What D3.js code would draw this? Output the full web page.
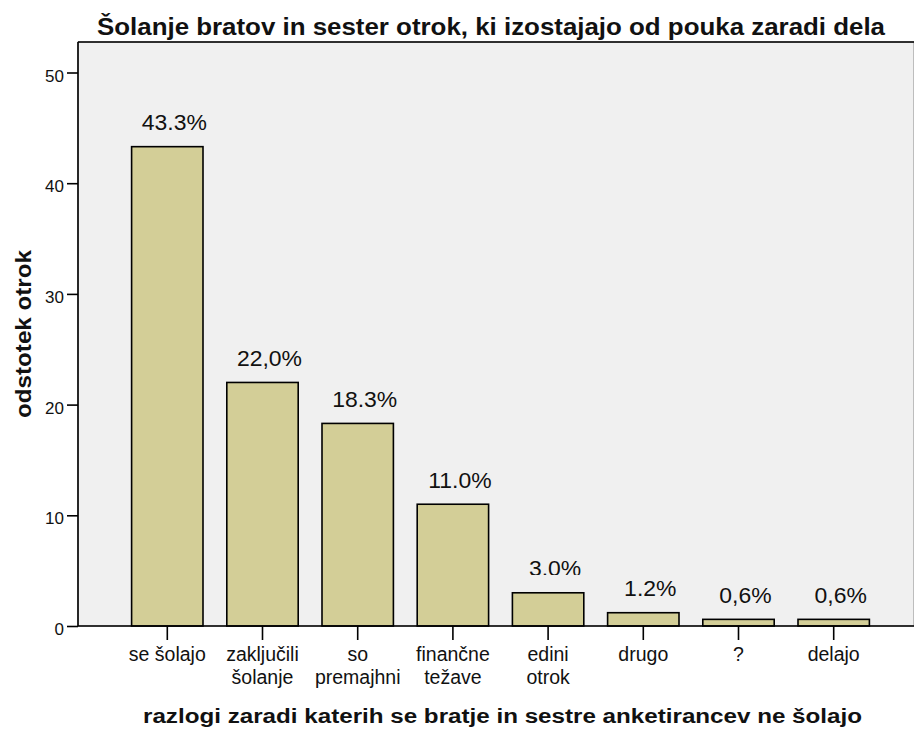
<!DOCTYPE html>
<html>
<head>
<meta charset="utf-8">
<script src="https://cdn.jsdelivr.net/npm/d3@7"></script>
<style>
  html, body { margin: 0; padding: 0; background: #fff; }
  svg { display: block; font-family: "Liberation Sans", Arial, Helvetica, sans-serif; }
</style>
</head>
<body>
<svg id="chart" width="914" height="731"></svg>
<script>
// Reasons why siblings of the surveyed children are not in school (percent of children)
const categories = [
  ["se šolajo"],
  ["zaključili", "šolanje"],
  ["so", "premajhni"],
  ["finančne", "težave"],
  ["edini", "otrok"],
  ["drugo"],
  ["?"],
  ["delajo"]
];
const values = [43.3, 22.0, 18.3, 11.0, 3.0, 1.2, 0.6, 0.6];
const valueLabels = ["43.3%", "22,0%", "18.3%", "11.0%", "3.0%", "1.2%", "0,6%", "0,6%"];
const yTicks = [0, 10, 20, 30, 40, 50];

const titleText = "Šolanje bratov in sester otrok, ki izostajajo od pouka zaradi dela";
const xTitleText = "razlogi zaradi katerih se bratje in sestre anketirancev ne šolajo";
const yTitleText = "odstotek otrok";

const svg = d3.select("#chart");

// plot frame
const frame = { left: 78, top: 42, right: 914, bottom: 626 };

const x = d3.scaleBand()
  .domain(d3.range(categories.length))
  .range([119.7, 881.3])
  .paddingInner(0.25)
  .paddingOuter(0.125);

const y = d3.scaleLinear()
  .domain([0, 50])
  .range([frame.bottom, 72.5]);

// stretch a text element horizontally by a factor
function stretch(sel, k) {
  sel.each(function () {
    const w = this.getComputedTextLength();
    d3.select(this).attr("textLength", w * k).attr("lengthAdjust", "spacingAndGlyphs");
  });
}

// plot background
svg.append("rect")
  .attr("x", frame.left).attr("y", frame.top)
  .attr("width", frame.right - frame.left)
  .attr("height", frame.bottom - frame.top)
  .attr("fill", "#f0f0f0")
  .attr("stroke", "#8a8a8a").attr("stroke-width", 1);

// top border
svg.append("line")
  .attr("x1", frame.left).attr("x2", frame.right)
  .attr("y1", frame.top).attr("y2", frame.top)
  .attr("stroke", "#000").attr("stroke-width", 1.6);

// bars
svg.append("g").selectAll("rect")
  .data(values)
  .join("rect")
  .attr("x", (d, i) => x(i))
  .attr("y", d => y(d))
  .attr("width", x.bandwidth())
  .attr("height", d => y(0) - y(d))
  .attr("fill", "#d3ce97")
  .attr("stroke", "#000")
  .attr("stroke-width", 1.6);

// clip for the label sitting on the short "edini otrok" bar
const clipY = 575;
svg.append("defs").append("clipPath").attr("id", "lblclip")
  .append("rect").attr("x", 0).attr("y", 0).attr("width", 914).attr("height", clipY);

// value labels
const vl = svg.append("g").selectAll("text")
  .data(values)
  .join("text")
  .attr("x", (d, i) => x(i) + x.bandwidth() / 2 + 7)
  .attr("y", d => y(d) - 16.5)
  .attr("text-anchor", "middle")
  .attr("font-size", 22.5)
  .attr("fill", "#111")
  .attr("clip-path", (d, i) => i === 4 ? "url(#lblclip)" : null)
  .text((d, i) => valueLabels[i]);
stretch(vl, 1.02);

// y axis
const yAxis = svg.append("g").attr("transform", `translate(${frame.left},0)`)
  .call(d3.axisLeft(y).tickValues(yTicks).tickSize(11).tickPadding(3).tickFormat(d3.format("d")));
yAxis.select(".domain").remove();
yAxis.selectAll(".tick line").attr("stroke", "#000").attr("stroke-width", 1.6);
yAxis.selectAll(".tick text")
  .attr("font-family", "Liberation Sans, Arial, sans-serif")
  .attr("font-size", 17).attr("fill", "#111")
  .attr("dy", null).attr("y", 8.5);

// left axis line
svg.append("line")
  .attr("x1", frame.left).attr("x2", frame.left)
  .attr("y1", frame.top).attr("y2", frame.bottom)
  .attr("stroke", "#000").attr("stroke-width", 1.6);

// x axis
const xAxis = svg.append("g").attr("transform", `translate(0,${frame.bottom})`)
  .call(d3.axisBottom(x).tickSize(14).tickFormat(""));
xAxis.select(".domain").remove();
xAxis.selectAll(".tick line").attr("stroke", "#000").attr("stroke-width", 1.6);

svg.append("line")
  .attr("x1", frame.left).attr("x2", frame.right)
  .attr("y1", frame.bottom).attr("y2", frame.bottom)
  .attr("stroke", "#000").attr("stroke-width", 1.6);

// category labels (one or two lines)
const cl = svg.append("g").selectAll("text")
  .data(categories)
  .join("text")
  .attr("text-anchor", "middle")
  .attr("font-size", 19.5)
  .attr("fill", "#111");
cl.each(function (lines, i) {
  const t = d3.select(this);
  lines.forEach((ln, j) => {
    t.append("tspan")
      .attr("x", x(i) + x.bandwidth() / 2)
      .attr("y", 661 + j * 22.5)
      .text(ln);
  });
});

// chart title
svg.append("text")
  .attr("x", 491).attr("y", 35)
  .attr("text-anchor", "middle")
  .attr("font-size", 23).attr("font-weight", "bold").attr("fill", "#111")
  .attr("textLength", 788).attr("lengthAdjust", "spacingAndGlyphs")
  .text(titleText);

// x axis title
svg.append("text")
  .attr("x", 502.5).attr("y", 723)
  .attr("text-anchor", "middle")
  .attr("font-size", 19.5).attr("font-weight", "bold").attr("fill", "#111")
  .attr("textLength", 719).attr("lengthAdjust", "spacingAndGlyphs")
  .text(xTitleText);

// y axis title
svg.append("text")
  .attr("transform", "translate(31,334) rotate(-90)")
  .attr("text-anchor", "middle")
  .attr("font-size", 22).attr("font-weight", "bold").attr("fill", "#111")
  .attr("textLength", 168).attr("lengthAdjust", "spacingAndGlyphs")
  .text(yTitleText);
</script>
</body>
</html>
